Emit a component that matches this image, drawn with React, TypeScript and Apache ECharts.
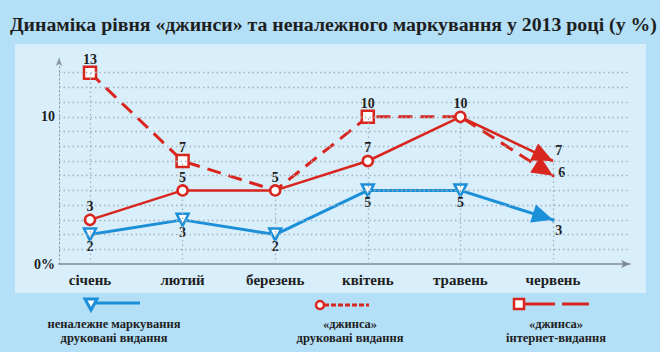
import React, { useEffect, useRef } from "react";
import * as echarts from "echarts";

const TITLE = "Динаміка рівня «джинси» та неналежного маркування у 2013 році (у %)";
const MONTHS = ["січень", "лютий", "березень", "квітень", "травень", "червень"];
const IMPROPER_PRINT = [2, 3, 2, 5, 5, 3];
const JEANS_PRINT = [3, 5, 5, 7, 10, 7];
const JEANS_WEB = [13, 7, 5, 10, 10, 6];
const Y_GRID_VALUES = [1, 2, 3, 4, 5, 6, 7, 8, 9, 10, 11, 12, 13];
const Y_LABELED = [0, 10];
// which labels/markers are hidden because another series shows the same value at that point
const JEANS_WEB_HIDDEN_LABEL = [false, false, true, false, true, false];
const JEANS_WEB_HIDDEN_MARKER = [false, false, true, false, true, false];

const RED = "#d8261e";
const BLUE = "#1b8fd8";
const TEXT = "#1e1e1e";
const SERIF = "'Liberation Serif', 'DejaVu Serif', serif";
const GRIDC = "#a3b1bb";

export default function App() {
  const ref = useRef<HTMLDivElement>(null);
  useEffect(() => {
    if (!ref.current) return;
    const chart = echarts.init(ref.current, null, { renderer: "svg" });
    const last = MONTHS.length - 1;
    const labelBase = { color: TEXT, fontFamily: SERIF, fontWeight: "bold", fontSize: 14 };

    const maxAt = MONTHS.map((_, i) => Math.max(IMPROPER_PRINT[i], JEANS_PRINT[i], JEANS_WEB[i]));
    const legendFont = `bold 12.5px ${SERIF}`;

    // last segment of each series, ending in an arrowhead
    const ARROW_SERIES: [number[], string][] = [
      [IMPROPER_PRINT, BLUE],
      [JEANS_PRINT, RED],
      [JEANS_WEB, RED],
    ];
    const arrowData = ARROW_SERIES.map(([vals]) => [last - 1, vals[last - 1], last, vals[last]]);
    const arrowColors = ARROW_SERIES.map(([, c]) => c);

    const series: any[] = [
      {
        type: "line",
        xAxisIndex: 0,
        yAxisIndex: 0,
        data: [],
        silent: true,
        markLine: {
          silent: true,
          symbol: "none",
          label: { show: false },
          lineStyle: { color: GRIDC, width: 1.3, type: [1.5, 3] },
          data: Y_GRID_VALUES.map((v) => ({ yAxis: v })),
        },
      },
      {
        type: "line",
        xAxisIndex: 1,
        yAxisIndex: 1,
        data: [],
        silent: true,
        markLine: {
          silent: true,
          symbol: "none",
          label: { show: false },
          lineStyle: { color: GRIDC, width: 1.3, type: [1.5, 3] },
          data: maxAt.map((m, i) => [{ coord: [i, 0] }, { coord: [i, m] }]),
        },
      },
      {
        name: "неналежне маркування друковані видання",
        type: "line",
        xAxisIndex: 1,
        yAxisIndex: 1,
        z: 3,
        lineStyle: { color: BLUE, width: 3 },
        itemStyle: { color: "#ffffff", borderColor: BLUE, borderWidth: 2.5 },
        symbol: "triangle",
        symbolRotate: 180,
        symbolSize: 12,
        label: { show: true, position: "bottom", distance: -2, ...labelBase },
        data: IMPROPER_PRINT.map((v, i) =>
          i === last
            ? { value: v, symbolSize: 0.1, label: { position: "right", distance: 1, offset: [0, 11] } }
            : { value: v }
        ),
      },
      {
        name: "«джинса» інтернет-видання",
        type: "line",
        xAxisIndex: 1,
        yAxisIndex: 1,
        z: 4,
        lineStyle: { color: RED, width: 3, type: [14, 8] },
        itemStyle: { color: "#ffffff", borderColor: RED, borderWidth: 2.5 },
        symbol: "rect",
        symbolSize: 12,
        label: { show: true, position: "top", distance: -1, ...labelBase },
        data: JEANS_WEB.map((v, i) => {
          const item: any = { value: v };
          if (JEANS_WEB_HIDDEN_MARKER[i]) item.symbolSize = 0.1;
          if (JEANS_WEB_HIDDEN_LABEL[i]) item.label = { show: false };
          if (i === last) {
            item.symbolSize = 0.1;
            item.label = { position: "right", distance: 4, offset: [0, -3] };
          }
          return item;
        }),
      },
      {
        name: "«джинса» друковані видання",
        type: "line",
        xAxisIndex: 1,
        yAxisIndex: 1,
        z: 5,
        lineStyle: { color: RED, width: 2.5 },
        itemStyle: { color: "#ffffff", borderColor: RED, borderWidth: 2.5 },
        symbol: "circle",
        symbolSize: 10,
        label: { show: true, position: "top", distance: 0, ...labelBase },
        data: JEANS_PRINT.map((v, i) =>
          i === last
            ? { value: v, symbolSize: 0.1, label: { position: "right", distance: 1, offset: [0, -11] } }
            : { value: v }
        ),
      },
      {
        type: "custom",
        xAxisIndex: 1,
        yAxisIndex: 1,
        z: 6,
        silent: true,
        clip: false,
        encode: { x: [0, 2], y: [1, 3] },
        data: arrowData,
        renderItem: (params: any, api: any) => {
          const p0 = api.coord([api.value(0), api.value(1)]);
          const p1 = api.coord([api.value(2), api.value(3)]);
          const dx = p1[0] - p0[0];
          const dy = p1[1] - p0[1];
          const len = Math.sqrt(dx * dx + dy * dy) || 1;
          const ux = dx / len;
          const uy = dy / len;
          const L = 21;
          const W = 9.5;
          const bx = p1[0] - ux * L;
          const by = p1[1] - uy * L;
          return {
            type: "polygon",
            shape: {
              points: [
                [p1[0], p1[1]],
                [bx - uy * W, by + ux * W],
                [bx + uy * W, by - ux * W],
              ],
            },
            style: { fill: arrowColors[params.dataIndex] },
          };
        },
      },
    ];

    const option: any = {
      animation: false,
      backgroundColor: "#b3dff7",
      title: {
        text: TITLE,
        left: 5,
        top: 9,
        textStyle: { fontFamily: SERIF, fontWeight: "bold", fontSize: 19.8, color: TEXT },
      },
      grid: [
        { left: 59, right: 30, top: 58, bottom: 88 },
        { left: 90, right: 107, top: 58, bottom: 88 },
      ],
      xAxis: [
        {
          type: "value",
          gridIndex: 0,
          min: 0,
          max: 1,
          axisLine: { show: true, lineStyle: { color: "#7e8a92", width: 1.5 }, symbol: ["none", "arrow"], symbolSize: [6, 9] },
          axisTick: { show: false },
          axisLabel: { show: false },
          splitLine: { show: false },
        },
        {
          type: "category",
          gridIndex: 1,
          boundaryGap: false,
          data: MONTHS,
          axisLine: { show: false },
          axisTick: { show: false },
          axisLabel: { color: TEXT, fontFamily: SERIF, fontWeight: "bold", fontSize: 15, margin: 8 },
          splitLine: { show: false },
        },
      ],
      yAxis: [
        {
          type: "value",
          gridIndex: 0,
          min: 0,
          max: 14,
          interval: 1,
          axisLine: { show: true, lineStyle: { color: "#8e9aa3", width: 1, type: [1.5, 2.5] }, symbol: ["none", "arrow"], symbolSize: [5, 8] },
          axisTick: { show: false },
          splitLine: { show: false },
          axisLabel: {
            color: TEXT,
            fontFamily: SERIF,
            fontWeight: "bold",
            fontSize: 14,
            margin: 4,
            formatter: (v: number) => (Y_LABELED.includes(v) ? (v === 0 ? "0%" : String(v)) : ""),
          },
        },
        { type: "value", gridIndex: 1, min: 0, max: 14, show: false },
      ],
      series,
      graphic: [
        {
          type: "rect",
          z: -10,
          silent: true,
          shape: { x: 15, y: 44, width: 631, height: 249 },
          style: { fill: "#d8eefb" },
        },
        // legend 1
        { type: "line", shape: { x1: 91, y1: 303, x2: 140, y2: 303 }, style: { stroke: BLUE, lineWidth: 3 } },
        {
          type: "polygon",
          shape: { points: [[85, 299], [97, 299], [91, 310]] },
          style: { fill: "#ffffff", stroke: BLUE, lineWidth: 3 },
        },
        {
          type: "text",
          x: 114,
          y: 324,
          style: { text: "неналежне маркування", align: "center", verticalAlign: "middle", fill: TEXT, font: legendFont },
        },
        {
          type: "text",
          x: 114,
          y: 338,
          style: { text: "друковані видання", align: "center", verticalAlign: "middle", fill: TEXT, font: legendFont },
        },
        // legend 2
        { type: "line", shape: { x1: 324, y1: 305, x2: 369, y2: 305 }, style: { stroke: RED, lineWidth: 3, lineDash: [5, 2] } },
        { type: "circle", shape: { cx: 320, cy: 305, r: 4 }, style: { fill: "#ffffff", stroke: RED, lineWidth: 2.5 } },
        {
          type: "text",
          x: 350,
          y: 324,
          style: { text: "«джинса»", align: "center", verticalAlign: "middle", fill: TEXT, font: legendFont },
        },
        {
          type: "text",
          x: 350,
          y: 338,
          style: { text: "друковані видання", align: "center", verticalAlign: "middle", fill: TEXT, font: legendFont },
        },
        // legend 3
        { type: "line", shape: { x1: 524, y1: 304, x2: 555, y2: 304 }, style: { stroke: RED, lineWidth: 3 } },
        { type: "line", shape: { x1: 562, y1: 304, x2: 589, y2: 304 }, style: { stroke: RED, lineWidth: 3 } },
        { type: "rect", shape: { x: 514, y: 299, width: 10, height: 10 }, style: { fill: "#ffffff", stroke: RED, lineWidth: 2.5 } },
        {
          type: "text",
          x: 556,
          y: 324,
          style: { text: "«джинса»", align: "center", verticalAlign: "middle", fill: TEXT, font: legendFont },
        },
        {
          type: "text",
          x: 556,
          y: 338,
          style: { text: "інтернет-видання", align: "center", verticalAlign: "middle", fill: TEXT, font: legendFont },
        },
      ],
    };
    chart.setOption(option);
    return () => chart.dispose();
  }, []);
  return <div ref={ref} style={{ width: 660, height: 352, position: "fixed", left: 0, top: 0 }} />;
}
